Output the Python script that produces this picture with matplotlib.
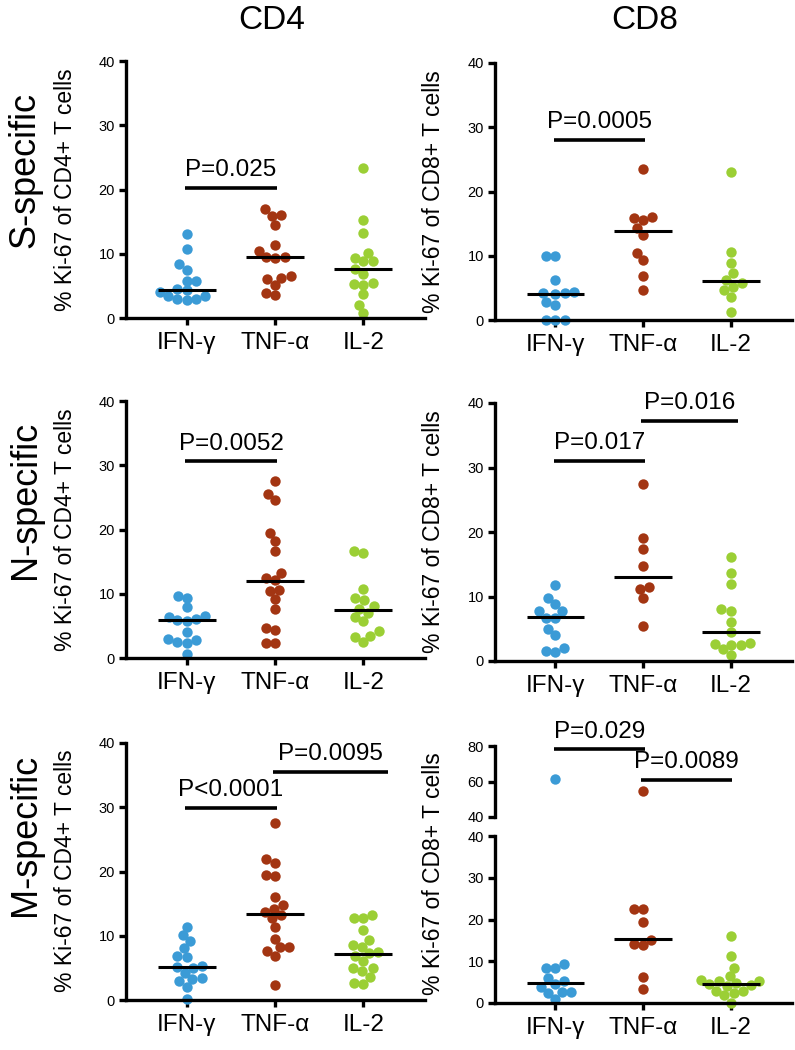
import numpy as np
import matplotlib
matplotlib.use("Agg")
import matplotlib.pyplot as plt

plt.rcParams["font.family"] = ["Liberation Sans", "DejaVu Sans"]

cytokines = ["IFN-γ", "TNF-α", "IL-2"]
colors = ["#3b9bd6", "#a33512", "#9bcf35"]

# % Ki-67+ values per cytokine (IFN-γ, TNF-α, IL-2)
s_cd4 = [[13.1, 10.7, 8.4, 7.5, 5.8, 5.8, 4.5, 4.3, 4.0, 3.5, 3.4, 3.0, 2.8, 2.9],
         [16.9, 15.9, 16.0, 14.5, 11.3, 10.5, 9.5, 9.4, 9.5, 5.2, 6.5, 6.3, 6.0, 3.6, 3.9],
         [23.4, 15.2, 13.3, 10.1, 8.8, 9.4, 8.8, 7.6, 6.8, 5.4, 5.2, 5.3, 3.7, 2.1, 0.8]]
s_cd8 = [[10.0, 10.0, 6.2, 4.2, 4.4, 4.2, 4.1, 2.8, 2.4, 0.0, 0.0, 0.0],
         [23.5, 15.6, 16.1, 15.8, 14.3, 13.2, 10.5, 9.4, 6.8, 4.6],
         [23.0, 10.6, 8.8, 7.3, 5.8, 6.2, 5.2, 4.7, 3.6, 1.2]]
n_cd4 = [[9.7, 9.4, 7.9, 6.6, 6.1, 5.7, 6.4, 5.9, 4.1, 3.0, 2.5, 2.4, 2.8, 0.6],
         [27.5, 24.6, 25.6, 19.4, 18.2, 16.6, 13.3, 12.1, 12.5, 10.4, 10.6, 9.2, 7.7, 4.4, 4.6, 2.4, 2.4],
         [16.3, 16.6, 10.8, 9.4, 9.0, 8.1, 7.7, 7.0, 6.4, 5.7, 4.2, 3.5, 3.3, 2.5]]
n_cd8 = [[11.8, 8.8, 9.8, 7.7, 6.7, 6.7, 7.7, 4.9, 4.0, 2.0, 1.4, 1.6],
         [27.5, 19.1, 17.4, 14.7, 11.1, 11.4, 9.7, 5.5],
         [16.2, 13.7, 12.0, 7.8, 8.0, 6.1, 4.5, 2.5, 2.6, 2.8, 2.5, 1.8, 1.0]]
m_cd4 = [[11.4, 9.2, 10.1, 8.1, 6.9, 6.7, 5.3, 5.0, 5.1, 4.2, 3.4, 3.3, 2.9, 2.1, 0.1],
         [27.6, 21.9, 21.3, 19.4, 19.3, 16.0, 14.8, 14.2, 13.2, 13.7, 12.7, 11.3, 9.5, 8.2, 8.2, 7.6, 6.9, 2.4],
         [12.7, 13.3, 12.8, 10.9, 9.3, 8.3, 8.6, 7.3, 6.8, 7.4, 6.1, 5.0, 5.0, 4.5, 3.6, 2.5, 2.7]]
m_cd8 = [[61.6, 9.4, 8.4, 8.4, 6.1, 5.3, 4.6, 3.8, 2.7, 2.5, 2.7, 1.0],
         [54.5, 22.6, 22.6, 19.5, 15.2, 14.2, 13.8, 6.2, 3.3],
         [16.0, 11.3, 8.5, 6.5, 5.4, 5.2, 5.2, 4.8, 4.5, 4.1, 4.2, 2.9, 2.9, 2.4, 1.8, 0.1]]

# median lines as drawn
s_cd4_med = [4.4, 9.5, 7.7]
s_cd8_med = [4.1, 13.8, 6.1]
n_cd4_med = [5.9, 12.0, 7.4]
n_cd8_med = [6.8, 13.1, 4.55]
m_cd4_med = [5.1, 13.4, 7.2]
m_cd8_med = [4.8, 15.25, 4.5]

# comparisons: (from group, to group, bar height, label)
s_cd4_p = [(0, 1, 20.3, "P=0.025")]
s_cd8_p = [(0, 1, 28.0, "P=0.0005")]
n_cd4_p = [(0, 1, 30.6, "P=0.0052")]
n_cd8_p = [(0, 1, 31.0, "P=0.017"), (1, 2.06, 37.2, "P=0.016")]
m_cd4_p = [(0, 1, 29.9, "P<0.0001"), (1, 2.26, 35.5, "P=0.0095")]
m_cd8_p = [(0, 1, 78.1, "P=0.029"), (1, 2, 60.8, "P=0.0089")]

W, H = 795, 1050
fig = plt.figure(figsize=(W / 100, H / 100), dpi=100)


def box(l, t, r, b):
    return [l / W, 1 - b / H, (r - l) / W, (b - t) / H]


def swarm(ypix, d):
    xs = np.zeros(len(ypix))
    placed = []
    for i in np.argsort(ypix):
        y = ypix[i]
        near = [(px, py) for px, py in placed if abs(py - y) < d]
        cands = [0.0]
        for px, py in near:
            dx = np.sqrt(d ** 2 - (py - y) ** 2)
            cands += [px - dx, px + dx]
        cands.sort(key=lambda c: (abs(c), c))
        for c in cands:
            if all((c - px) ** 2 + (y - py) ** 2 >= d ** 2 - 1e-6 for px, py in near):
                xs[i] = c
                break
        placed.append((xs[i], y))
    return xs


def style(ax, ylim, yticks, xlabels=True):
    ax.set_xlim(-0.69, 2.70)
    ax.set_ylim(*ylim)
    ax.set_yticks(yticks)
    for s in ["top", "right"]:
        ax.spines[s].set_visible(False)
    for s in ["left", "bottom"]:
        ax.spines[s].set_linewidth(2.4)
    ax.tick_params(axis="y", length=5, width=2.4, pad=3, labelsize=10.5)
    if xlabels:
        ax.set_xticks([0, 1, 2])
        ax.set_xticklabels(cytokines, fontsize=17.5)
        ax.tick_params(axis="x", length=5, width=2.4, pad=5)
    else:
        ax.spines["bottom"].set_visible(False)
        ax.set_xticks([])


def draw(ax, groups, medians, ylim):
    trans = ax.transData
    xpix = trans.transform([[1, 0]])[0, 0] - trans.transform([[0, 0]])[0, 0]
    for i, vals in enumerate(groups):
        vals = np.asarray(vals, dtype=float)
        sel = vals[(vals >= ylim[0]) & (vals <= ylim[1])]
        if len(sel):
            ypix = trans.transform(np.column_stack([np.zeros_like(sel), sel]))[:, 1]
            off = swarm(ypix, 9.5) / xpix
            ax.scatter(i + off, sel, s=56, color=colors[i], linewidths=0,
                       zorder=2, clip_on=False)
        if ylim[0] <= medians[i] <= ylim[1]:
            ax.plot([i - 0.33, i + 0.33], [medians[i]] * 2, color="k", lw=2.2,
                    zorder=3, solid_capstyle="butt")


def pvals(ax, comps):
    for x0, x1, y, label in comps:
        ax.plot([x0 - 0.02, x1 + 0.02], [y, y], color="k", lw=2.6, clip_on=False,
                solid_capstyle="butt")
        ax.annotate(label, xy=((x0 + x1) / 2, y), xytext=(0, 8.5),
                    textcoords="offset points", ha="center", va="baseline",
                    fontsize=17.5, annotation_clip=False)


panels = [
    (box(126, 61, 425, 318), s_cd4, s_cd4_med, s_cd4_p),
    (box(495, 63, 792, 320), s_cd8, s_cd8_med, s_cd8_p),
    (box(126, 401, 425, 658), n_cd4, n_cd4_med, n_cd4_p),
    (box(495, 403, 792, 661), n_cd8, n_cd8_med, n_cd8_p),
    (box(126, 743, 425, 1000), m_cd4, m_cd4_med, m_cd4_p),
]
for pos, groups, meds, comps in panels:
    ax = fig.add_axes(pos)
    style(ax, (0, 40), [0, 10, 20, 30, 40])
    draw(ax, groups, meds, (0, 40))
    pvals(ax, comps)

# M-specific CD8 with broken y axis
ax_lo = fig.add_axes(box(495, 836, 792, 1003))
style(ax_lo, (0, 40), [0, 10, 20, 30, 40])
draw(ax_lo, m_cd8, m_cd8_med, (0, 40))
ax_hi = fig.add_axes(box(495, 746, 792, 817))
style(ax_hi, (40, 80), [40, 60, 80], xlabels=False)
draw(ax_hi, m_cd8, m_cd8_med, (40.01, 80))
pvals(ax_hi, m_cd8_p)

# column titles, row labels, y labels
fig.text(272 / W, 1 - 29 / H, "CD4", fontsize=24, ha="center", va="baseline")
fig.text(645 / W, 1 - 29 / H, "CD8", fontsize=24, ha="center", va="baseline")
for yc, name in [(170, "S-specific"), (500, "N-specific"), (835, "M-specific")]:
    fig.text(25 / W, 1 - yc / H, name, fontsize=26, rotation=90, ha="center", va="center")
for yc in [190, 530, 871]:
    fig.text(65 / W, 1 - yc / H, "% Ki-67 of CD4+ T cells", fontsize=16.5,
             rotation=90, ha="center", va="center")
for yc in [192, 532, 874]:
    fig.text(434 / W, 1 - yc / H, "% Ki-67 of CD8+ T cells", fontsize=16.5,
             rotation=90, ha="center", va="center")

fig.savefig("out.png", dpi=100)
